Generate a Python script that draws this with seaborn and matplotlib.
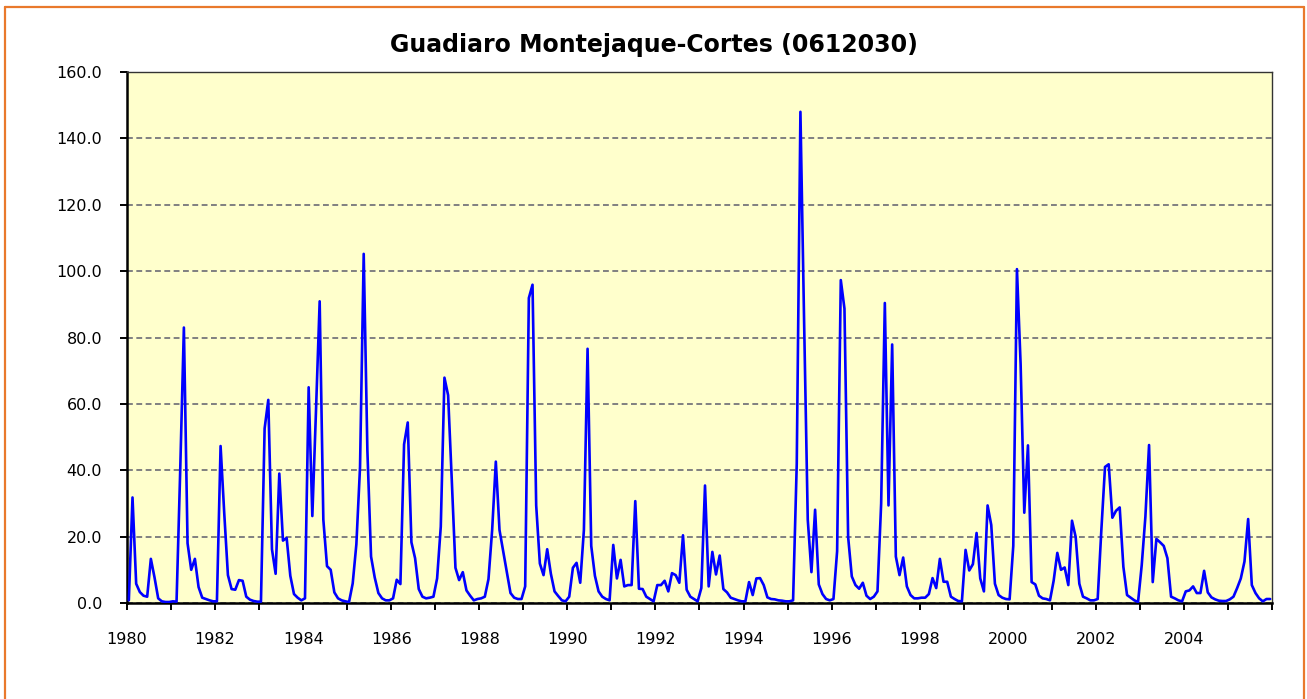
import numpy as np
import pandas as pd
import matplotlib
matplotlib.use("Agg")
import matplotlib.pyplot as plt
import seaborn as sns
from matplotlib.lines import Line2D
from matplotlib.ticker import FuncFormatter

title = "Guadiaro Montejaque-Cortes (0612030)"
start_year = 1980
end_year = 2006

# monthly flow, one row per year (Jan..Dec)
flow = [
    0.8, 31.8, 5.8, 3.3, 2.2, 1.9, 13.3, 7.7, 1.4, 0.5, 0.3, 0.3,        # 1980
    0.5, 0.4, 40.0, 83.0, 18.0, 10.0, 13.3, 4.8, 1.6, 1.2, 0.8, 0.5,     # 1981
    0.5, 47.3, 27.0, 8.4, 4.2, 4.0, 6.9, 6.7, 1.9, 1.0, 0.6, 0.4,        # 1982
    0.4, 52.6, 61.2, 16.2, 8.8, 39.0, 18.8, 19.6, 8.2, 2.7, 1.6, 0.8,    # 1983
    1.4, 65.0, 26.2, 58.0, 90.9, 25.1, 11.1, 10.0, 3.2, 1.4, 0.8, 0.5,   # 1984
    0.3, 5.9, 17.7, 41.0, 105.2, 46.0, 14.0, 7.7, 3.0, 1.4, 0.8, 0.8,    # 1985
    1.4, 7.0, 5.7, 47.8, 54.4, 18.3, 13.5, 4.2, 1.9, 1.4, 1.6, 1.9,      # 1986
    7.4, 23.0, 67.9, 62.6, 37.0, 10.6, 6.9, 9.3, 3.8, 2.2, 0.8, 1.2,     # 1987
    1.4, 1.9, 7.2, 22.0, 42.6, 22.0, 15.6, 9.3, 3.0, 1.6, 1.2, 1.2,      # 1988
    5.0, 91.9, 95.9, 29.4, 11.9, 8.4, 16.2, 8.8, 3.5, 2.1, 0.8, 0.5,     # 1989
    1.9, 10.6, 12.1, 6.1, 22.0, 76.6, 17.2, 8.2, 3.5, 1.9, 1.2, 0.8,     # 1990
    17.5, 7.4, 13.0, 5.0, 5.4, 5.4, 30.7, 4.3, 4.2, 1.9, 1.2, 0.5,       # 1991
    5.4, 5.4, 6.7, 3.5, 9.0, 8.4, 6.1, 20.4, 4.0, 1.9, 1.2, 0.5,         # 1992
    4.5, 35.4, 5.0, 15.4, 8.6, 14.3, 4.2, 3.2, 1.6, 1.2, 0.8, 0.5,       # 1993
    0.5, 6.3, 2.4, 7.4, 7.5, 5.4, 1.7, 1.2, 1.1, 0.8, 0.7, 0.5,          # 1994
    0.5, 0.8, 42.0, 148.0, 85.0, 25.1, 9.3, 28.1, 5.6, 2.7, 1.2, 0.8,    # 1995
    1.2, 15.6, 97.3, 88.7, 19.9, 8.0, 5.4, 4.3, 6.1, 2.2, 1.2, 1.9,      # 1996
    3.5, 30.0, 90.4, 29.4, 77.9, 14.0, 8.4, 13.7, 5.0, 2.4, 1.4, 1.4,    # 1997
    1.6, 1.6, 2.7, 7.5, 4.5, 13.3, 6.4, 6.4, 1.9, 1.2, 0.6, 0.5,         # 1998
    16.0, 9.8, 11.7, 21.1, 7.4, 3.5, 29.4, 23.5, 5.8, 2.4, 1.6, 1.2,     # 1999
    1.1, 17.2, 100.6, 72.0, 27.2, 47.5, 6.3, 5.6, 2.2, 1.4, 1.2, 0.8,    # 2000
    6.7, 15.1, 10.0, 10.7, 5.4, 24.8, 19.9, 5.8, 1.9, 1.4, 0.8, 0.8,     # 2001
    1.2, 22.0, 41.0, 41.8, 25.7, 27.8, 28.8, 10.9, 2.4, 1.6, 0.8, 0.3,   # 2002
    11.4, 26.0, 47.6, 6.3, 19.3, 18.3, 17.2, 13.5, 1.9, 1.4, 0.8, 0.5,   # 2003
    3.5, 3.8, 5.0, 3.0, 3.0, 9.7, 3.2, 1.7, 1.1, 0.7, 0.6, 0.6,          # 2004
    1.1, 1.9, 4.5, 7.4, 12.5, 25.3, 5.4, 3.0, 1.4, 0.5, 1.2, 1.2,        # 2005
]
ytick_values = [0, 20, 40, 60, 80, 100, 120, 140, 160]
xtick_years = list(range(start_year, end_year + 1))
xlabel_years = list(range(start_year, end_year, 2))

month = np.arange(len(flow))
df = pd.DataFrame({"year": start_year + (month + 0.5) / 12, "flow": flow})

sns.set_style("white")
plt.rcParams["font.family"] = ["DejaVu Sans"]
plt.rcParams["text.color"] = "black"
plt.rcParams["xtick.color"] = "black"
plt.rcParams["ytick.color"] = "black"

W, H = 1307, 699
fig = plt.figure(figsize=(W / 100, H / 100), dpi=100)
ax = fig.add_axes([127 / W, 1 - 603 / H, (1272 - 127) / W, (603 - 72) / H])
ax.set_facecolor("#FFFFCC")

sns.lineplot(data=df, x="year", y="flow", color="#0000FF", linewidth=1.9, ax=ax, zorder=3)

ax.set_xlim(start_year, end_year)
ax.set_ylim(0, 160)
ax.set_yticks(ytick_values)
ax.yaxis.set_major_formatter(FuncFormatter(lambda v, p: f"{v:.1f}"))
ax.set_xticks(xtick_years)
ax.set_xticklabels([str(y) if y in xlabel_years else "" for y in xtick_years])
ax.set_xlabel("")
ax.set_ylabel("")

ax.grid(axis="y", color="#808080", linestyle=(0, (3, 1.8)), linewidth=1.4)
ax.grid(axis="x", visible=False)
ax.set_axisbelow(True)

for side in ["left", "bottom"]:
    ax.spines[side].set_color("black")
    ax.spines[side].set_linewidth(1.8)
for side in ["top", "right"]:
    ax.spines[side].set_color("#333333")
    ax.spines[side].set_linewidth(1.0)

ax.tick_params(axis="both", direction="out", length=5, width=1.4, color="black",
               labelsize=11.5, labelcolor="black", left=True, bottom=True)
ax.tick_params(axis="x", pad=16)
ax.tick_params(axis="y", pad=13)

fig.text(0.5, 1 - 45 / H, title, ha="center", va="center",
         fontsize=17, fontweight="bold", color="black")

# orange chart-area border
bc = "#E9792C"
x0, x1 = 5 / W, 1304 / W
y0, y1 = 0.0, 1 - 7 / H
for xs, ys in [([x0, x0], [y0, y1]), ([x0, x1], [y1, y1]), ([x1, x1], [y1, y0])]:
    fig.add_artist(Line2D(xs, ys, transform=fig.transFigure, color=bc, linewidth=1.6))

fig.savefig("out.png", dpi=100)
